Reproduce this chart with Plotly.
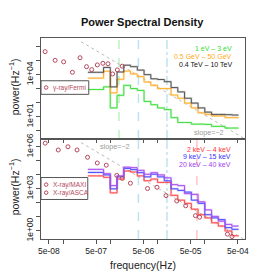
import plotly.graph_objects as go

# ---------------- data ----------------
# step-function frequency points (Hz)
step_freq = [3.35e-7, 5.18e-7, 7.20e-7, 1.00e-6, 1.39e-6, 1.93e-6, 2.68e-6, 3.73e-6,
             5.18e-6, 7.20e-6, 1.00e-5, 1.39e-5, 1.93e-5, 2.68e-5, 3.73e-5, 5.18e-5,
             7.20e-5, 1.00e-4, 1.39e-4, 1.93e-4, 2.68e-4, 3.73e-4, 5.18e-4]

# top panel PSDs
psd_tev = [1.47e4, 1.47e4, 3.25e4, 1.34e3, 1.54e4, 4.69e4, 3.69e4, 2.11e4, 1.0e4, 5.04e3,
           4.51e3, 3.13e3, 1.20e3, 587, 208, 93.8, 42.3, 21.3, 14.6, 14.6, 13.9, 13.2, 13.2]
psd_gev = [5.64e3, 5.64e3, 1.75e4, 500, 4.66e3, 1.80e4, 1.12e4, 7.28e3, 2.98e3, 1.73e3,
           1.02e3, 1.02e3, 352, 208, 93.8, 42.3, 19.0, 14.6, 11.3, 11.3, 8.6, 8.6, 8.6]
psd_ev = [873, 873, 1.34e3, 42.3, 336, 1.73e3, 1.02e3, 745, 123, 71.6,
          42.3, 32.3, 8.6, 3.87, 3.87, 2.96, 2.96, 2.82, 2.05, 2.05, 1.56, 1.56, 1.56]

# bottom panel PSDs
psd_20_40 = [2.42e4, 2.42e4, 1.20e4, 1.69e3, 8.32e3, 3.49e4, 3.23e4, 2.07e4, 1.09e4, 1.41e4,
             9.77e3, 6.06e3, 1.99e3, 1.69e3, 451, 403, 118, 31.5, 10.8, 4.89, 2.89, 2.20, 2.20]
psd_9_15 = [1.46e4, 1.46e4, 9.77e3, 1.0e3, 7.10e3, 2.84e4, 2.34e4, 1.41e4, 7.10e3, 1.09e4,
            7.10e3, 3.75e3, 1.0e3, 762, 582, 155, 91.6, 14.2, 8.4, 6.4, 1.71, 1.30, 1.30]
psd_2_4 = [8.32e3, 8.32e3, 6.56e3, 512, 4.92e3, 1.85e4, 1.57e4, 8.32e3, 3.75e3, 4.92e3,
           2.86e3, 2.86e3, 344, 155, 91.6, 35.2, 14.2, 8.4, 3.78, 2.20, 0.99, 0.45, 0.45]

# gamma-ray / Fermi points
fermi_freq = [4.18e-8, 6.81e-8, 1.03e-7, 1.58e-7, 2.29e-7, 3.14e-7, 4.04e-7, 5.32e-7,
              6.97e-7, 8.93e-7, 1.12e-6, 1.41e-6, 1.79e-6]
fermi_psd = [4.37e5, 1.04e5, 8.18e4, 1.47e4, 1.60e5, 3.69e4, 2.29e4, 4.92e4,
             6.46e4, 5.96e4, 1.12e4, 2.18e4, 4.0e4]

# X-ray points
maxi_freq = [4.20e-8, 7.93e-8, 1.27e-7, 1.98e-7, 3.30e-7, 5.30e-7, 8.22e-7]
maxi_psd = [1.79e6, 5.86e5, 9.93e5, 5.86e5, 1.77e5, 6.93e4, 4.81e4]
asca_freq = [1.37e-6, 1.79e-6, 2.66e-6, 6.14e-6, 9.73e-6, 1.51e-5, 2.55e-5, 3.94e-5,
             6.34e-5, 7.74e-5, 3.01e-4, 3.76e-4]
asca_psd = [9.02e3, 5.58e3, 2.52e3, 1.05e3, 1.29e3, 328, 136, 61.5, 12.1, 9.53, 0.586, 0.394]

# slope = -2 reference lines
slope_freq = [2.4e-7, 6.97e-4]
slope_top = [2.25e6, 0.267]
slope_bottom = [1.99e6, 0.236]

# vertical marker frequencies
vline_green = 1.53e-6
vline_blue_dash = 3.94e-6
vline_blue_dashdot = 1.58e-5
vline_red = 6.8e-5

x_tickvals = [5e-8, 1e-7, 5e-7, 1e-6, 5e-6, 1e-5, 5e-5, 1e-4, 5e-4]
x_ticktext = ["5e-08", " ", "5e-07", " ", "5e-06", " ", "5e-05", " ", "5e-04"]
y_tickvals = [1, 10, 100, 1e3, 1e4, 1e5, 1e6]
y_top_text = [" ", "1e+01", " ", " ", "1e+04", " ", " "]
y_bot_text = ["1e+00", " ", " ", "1e+03", " ", " ", "1e+06"]

# ---------------- figure ----------------
FONT = "Liberation Sans, Arial, Helvetica, sans-serif"
W = H = 274
XR = [-7.466, -3.157]
YR_TOP = [-0.588, 6.609]
YR_BOT = [-0.578, 6.55]
PT = "#b5485d"

fig = go.Figure()

def px_x(p):
    return p / W

def px_y(p):
    return 1 - p / H

def step(x, y, color, shadow, xa, ya):
    fig.add_trace(go.Scatter(x=x, y=y, mode="lines", line=dict(color=shadow, width=2.2, shape="hv"),
                             xaxis=xa, yaxis=ya, hoverinfo="skip"))
    fig.add_trace(go.Scatter(x=x, y=y, mode="lines", line=dict(color=color, width=1, shape="hv"),
                             xaxis=xa, yaxis=ya))

def vline(f, color, dash, xa, ya, yr):
    fig.add_trace(go.Scatter(x=[f, f], y=[10 ** yr[0], 10 ** yr[1]], mode="lines",
                             line=dict(color=color, width=1.5, dash=dash), xaxis=xa, yaxis=ya,
                             hoverinfo="skip"))

def points(x, y, xa, ya):
    fig.add_trace(go.Scatter(x=x, y=y, mode="markers",
                             marker=dict(symbol="circle-open", size=4, color=PT, line=dict(width=1)),
                             xaxis=xa, yaxis=ya))

# top panel
vline(vline_green, "#bdf2bd", "dash", "x", "y", YR_TOP)
vline(vline_blue_dash, "#bfe3ee", "dash", "x", "y", YR_TOP)
vline(vline_blue_dashdot, "#bfe3ee", "dashdot", "x", "y", YR_TOP)
fig.add_trace(go.Scatter(x=slope_freq, y=slope_top, mode="lines",
                         line=dict(color="#bbbbbb", width=1, dash="dot"), xaxis="x", yaxis="y"))
step(step_freq, psd_ev, "#44dd44", "rgba(68,221,68,0.28)", "x", "y")
step(step_freq, psd_gev, "#ffb030", "rgba(255,176,48,0.28)", "x", "y")
step(step_freq, psd_tev, "#555555", "rgba(0,0,0,0.16)", "x", "y")
points(fermi_freq, fermi_psd, "x", "y")

# bottom panel
vline(vline_blue_dash, "#bfe3ee", "dash", "x2", "y2", YR_BOT)
vline(vline_blue_dashdot, "#bfe3ee", "dashdot", "x2", "y2", YR_BOT)
vline(vline_red, "#ffc4c4", "dash", "x2", "y2", YR_BOT)
fig.add_trace(go.Scatter(x=slope_freq, y=slope_bottom, mode="lines",
                         line=dict(color="#bbbbbb", width=1, dash="dot"), xaxis="x2", yaxis="y2"))
step(step_freq, psd_2_4, "#ff4a4a", "rgba(255,74,74,0.28)", "x2", "y2")
step(step_freq, psd_9_15, "#5050ff", "rgba(80,80,255,0.28)", "x2", "y2")
step(step_freq, psd_20_40, "#a850f0", "rgba(168,80,240,0.28)", "x2", "y2")
points(maxi_freq, maxi_psd, "x2", "y2")
points(asca_freq, asca_psd, "x2", "y2")

xdom = [39 / W, 248 / W]
axis_common = dict(showline=True, mirror=True, linecolor="#555555", linewidth=1,
                   showgrid=False, zeroline=False, ticks="outside", tickcolor="#555555",
                   tickfont=dict(family=FONT, size=8.5, color="#222222"))

fig.update_layout(
    width=W, height=H, margin=dict(l=0, r=0, t=0, b=0, pad=0),
    paper_bgcolor="white", plot_bgcolor="white", showlegend=False,
    xaxis=dict(domain=xdom, type="log", range=XR, anchor="y", tickvals=x_tickvals,
               ticktext=[" "] * len(x_tickvals), ticklen=3, **axis_common),
    yaxis=dict(domain=[px_y(137), px_y(33)], type="log", range=YR_TOP, anchor="x",
               tickvals=y_tickvals, ticktext=y_top_text, tickangle=-90, ticklen=4, **axis_common),
    xaxis2=dict(domain=xdom, type="log", range=XR, anchor="y2", matches="x",
                tickvals=x_tickvals, ticktext=x_ticktext, ticklen=4, **axis_common),
    yaxis2=dict(domain=[px_y(240), px_y(137)], type="log", range=YR_BOT, anchor="x2",
                tickvals=y_tickvals, ticktext=y_bot_text, tickangle=-90, ticklen=4, **axis_common),
)

annotations = []

def ann(text, x, y, size, color="#222222", xanchor="center", yanchor="middle", angle=0, bold=False):
    if bold:
        text = "<b>" + text + "</b>"
    annotations.append(dict(text=text, x=x, y=y, xref="paper", yref="paper", showarrow=False,
                            xanchor=xanchor, yanchor=yanchor, textangle=angle,
                            font=dict(family=FONT, size=size, color=color)))

ann("Power Spectral Density", px_x(143.5), px_y(16.7), 11, "#111111", bold=True)
ann("power(Hz<sup>−1</sup>)", px_x(11), px_y(83), 10.5, angle=-90)
ann("power(Hz<sup>−1</sup>)", px_x(11), px_y(186), 10.5, angle=-90)
ann("frequency(Hz)", px_x(143.5), px_y(266.5), 10.5)

ann("1 eV – 3 eV", px_x(236.7), px_y(43.3), 7, "#33dd33", xanchor="right")
ann("0.5 GeV – 50 GeV", px_x(236.7), px_y(51.7), 7, "#ffaa22", xanchor="right")
ann("0.4 TeV – 10 TeV", px_x(236.7), px_y(60), 7, "#111111", xanchor="right")
ann("2 keV – 4 keV", px_x(236), px_y(148.3), 7, "#ff3333", xanchor="right")
ann("9 keV – 15 keV", px_x(236), px_y(155.5), 7, "#3333ff", xanchor="right")
ann("20 keV – 40 keV", px_x(236), px_y(163), 7, "#a040f0", xanchor="right")

ann("slope=−2", px_x(211.7), px_y(130), 7.2, "#999999")
ann("slope=−2", px_x(114.7), px_y(145), 7.2, "#999999")

# legends
ann("γ-ray/Fermi", px_x(49.5), px_y(84), 6.5, PT, xanchor="left")
ann("X-ray/MAXI", px_x(49.5), px_y(184), 6.5, PT, xanchor="left")
ann("X-ray/ASCA", px_x(49.5), px_y(192.3), 6.5, PT, xanchor="left")

shapes = []

def rect(x0, y0, x1, y1):
    shapes.append(dict(type="rect", xref="paper", yref="paper", x0=px_x(x0), x1=px_x(x1),
                       y0=px_y(y1), y1=px_y(y0), line=dict(color="#555555", width=1),
                       fillcolor="white", layer="above"))

def circ(cx, cy, r=1.8):
    shapes.append(dict(type="circle", xref="paper", yref="paper", x0=px_x(cx - r), x1=px_x(cx + r),
                       y0=px_y(cy + r), y1=px_y(cy - r), line=dict(color=PT, width=1),
                       layer="above"))

rect(39, 77, 88, 91)
rect(39, 176.7, 87, 199.3)
circ(44.3, 84)
circ(44.3, 184)
circ(44.3, 192.3)

fig.update_layout(annotations=annotations, shapes=shapes)
fig.write_html("out.html", config={"displayModeBar": False, "staticPlot": True},
               post_script="document.body.style.margin='0';document.body.style.padding='0';"
                           "document.documentElement.style.overflow='hidden';")
